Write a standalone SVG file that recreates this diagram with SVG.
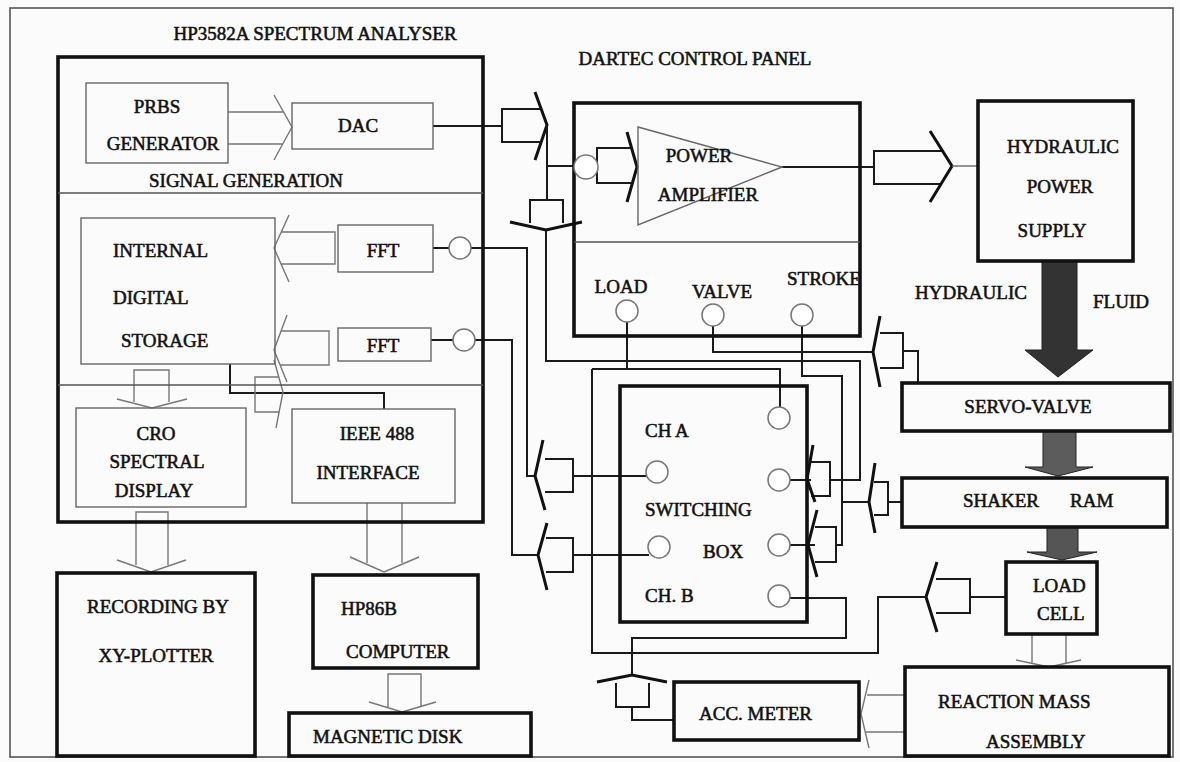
<svg xmlns="http://www.w3.org/2000/svg" width="1180" height="762" viewBox="0 0 1180 762">
<style>
.bg{fill:#fbfbfb}
.frame{fill:none;stroke:#555;stroke-width:1.6}
.thick{fill:none;stroke:#111;stroke-width:3.6}
.thin{fill:none;stroke:#666;stroke-width:1.4}
.div{fill:none;stroke:#555;stroke-width:1.3}
.wire{fill:none;stroke:#1a1a1a;stroke-width:2}
.darr{fill:none;stroke:#1a1a1a;stroke-width:2}
.chev{fill:none;stroke:#111;stroke-width:3;stroke-linejoin:miter}
.garr{fill:none;stroke:#777;stroke-width:1.4}
.port{fill:#fff;stroke:#777;stroke-width:1.5}
.fluid{stroke:#222;stroke-width:1}
text{font-family:"Liberation Serif","Times New Roman",serif;font-size:19px;fill:#111;stroke:#111;stroke-width:0.55}
.m{text-anchor:middle}
</style>
<rect class="bg" x="0" y="0" width="1180" height="762"/>

<g id="connectors">
  <path class="garr" d="M228,112 H284 M228,144 H283 M274,95 L292,127 L274,160"/>
  <path class="wire" d="M433,126 H502"/>
  <path class="darr" d="M541,109 H502 V142 H541"/>
  <path class="chev" d="M535,92 L547,125 L535,160"/>
  <path class="wire" d="M547,125 V200 M547,166 H575 M546,230 V361 H860 V480 H830"/>
  <path class="darr" d="M530,223 V200 H563 V223"/>
  <path class="chev" d="M510,222 L546,230 L582,222"/>
  <path class="darr" d="M631,148 H597 V183 H632"/>
  <path class="chev" d="M627,132 L637,167 L627,202"/>
  <path class="wire" d="M782,167 H874"/>
  <path class="darr" d="M942,151 H874 V184 H941"/>
  <path class="chev" d="M930,131 L952,166 L930,202"/>
  <path class="thin" d="M952,166 H978"/>
  <path class="garr" d="M281,232 H335 V264 H281 M289,215 L274,248 L289,282"/>
  <path class="garr" d="M281,331 H329 V365 H280 M287,315 L274,350 L287,382"/>
  <path class="garr" d="M134,402 V370 H169 V402 M117,399 L152,408 L187,399"/>
  <path class="wire" d="M230,364 V393 H384 V409"/>
  <path class="garr" d="M279,377 H255 V412 H279 M274,360 L283,392 L276,428"/>
  <path class="garr" d="M136,565 V512 H168 V565 M117,560 L151,572 L186,560"/>
  <path class="garr" d="M367,503 V563 M402,503 V563 M350,557 L384,572 L419,557"/>
  <path class="garr" d="M388,707 V674 H421 V707 M369,702 L402,712 L436,702"/>
  <path class="wire" d="M433,248 H449 M471,248 H527 V476 H535"/>
  <path class="wire" d="M431,340 H453 M475,340 H512 V555 H538"/>
  <path class="darr" d="M545,459 H573 V492 H545"/>
  <path class="chev" d="M543,440 L535,476 L545,510"/>
  <path class="wire" d="M573,476 H646"/>
  <path class="darr" d="M546,538 H573 V572 H546"/>
  <path class="chev" d="M547,523 L538,555 L547,590"/>
  <path class="wire" d="M573,555 H649"/>
  <path class="wire" d="M627,322 V369 M592,369 H780 V407"/>
  <path class="wire" d="M713,326 V352 H873"/>
  <path class="darr" d="M880,333 H903 V368 H880"/>
  <path class="chev" d="M880,316 L873,352 L880,387"/>
  <path class="wire" d="M903,351 H918 V383"/>
  <path class="wire" d="M802,326 V376 H842 V545 H836 M842,502 H869"/>
  <path class="darr" d="M874,482 H888 V515 H874"/>
  <path class="chev" d="M875,463 L869,502 L875,533"/>
  <path class="wire" d="M888,502 H902"/>
  <path class="wire" d="M790,480 H811 M790,545 H815"/>
  <path class="darr" d="M811,462 H830 V496 H811"/>
  <path class="chev" d="M813,445 L807,479 L815,502"/>
  <path class="darr" d="M815,527 H836 V562 H815"/>
  <path class="chev" d="M817,510 L808,545 L817,577"/>
  <path class="wire" d="M1006,597 H970"/>
  <path class="darr" d="M936,579 H970 V613 H936"/>
  <path class="chev" d="M937,562 L926,597 L937,632"/>
  <path class="wire" d="M926,597 H878 V653 H592 V369"/>
  <path class="wire" d="M790,598 H846 V638 H632 V675"/>
  <path class="chev" d="M597,682 L632,675 L667,682"/>
  <path class="darr" d="M616,683 V707 H649 V683"/>
  <path class="wire" d="M632,707 V720 H674"/>
  <path class="garr" d="M1032,634 V663 M1066,634 V663 M1016,660 L1049,667 L1081,660"/>
  <path class="garr" d="M905,695 H867 M905,732 H866 M869,680 L861,714 L869,748"/>
  <path class="fluid" fill="#333" d="M1042,261 V350 H1025 L1058,377 L1093,350 H1077 V261 Z"/>
  <path class="fluid" fill="#5c5c5c" d="M1043,431 V467 H1025 L1058,476 L1093,467 H1076 V431 Z"/>
  <path class="fluid" fill="#555" d="M1047,527 V552 H1027 L1062,560 L1097,552 H1078 V527 Z"/>
</g>

<rect class="frame" x="10" y="8" width="1163" height="749"/>
<text class="m" x="315" y="40">HP3582A SPECTRUM ANALYSER</text>
<text class="m" x="695" y="65">DARTEC CONTROL PANEL</text>

<g id="analyser">
  <rect class="thick" x="58" y="57" width="425" height="465"/>
  <path class="div" d="M58,193 H483 M58,385 H483"/>
  <text class="m" x="246" y="187">SIGNAL GENERATION</text>
</g>
<g id="prbs">
  <rect class="thin" x="86" y="83" width="142" height="80"/>
  <text class="m" x="157" y="113">PRBS</text>
  <text class="m" x="163" y="150">GENERATOR</text>
</g>
<g id="dac">
  <rect class="thin" x="292" y="103" width="141" height="46"/>
  <text class="m" x="358" y="132">DAC</text>
</g>
<g id="storage">
  <rect class="thin" x="81" y="218" width="194" height="146"/>
  <text x="113" y="257">INTERNAL</text>
  <text x="113" y="304">DIGITAL</text>
  <text x="121" y="347">STORAGE</text>
</g>
<g id="fft1">
  <rect class="thin" x="338" y="225" width="95" height="47"/>
  <text class="m" x="383" y="257">FFT</text>
  <circle class="port" cx="460" cy="248" r="11"/>
</g>
<g id="fft2">
  <rect class="thin" x="338" y="328" width="93" height="33"/>
  <text class="m" x="383" y="352">FFT</text>
  <circle class="port" cx="464" cy="340" r="11"/>
</g>
<g id="cro">
  <rect class="thin" x="76" y="408" width="170" height="99"/>
  <text class="m" x="156" y="440">CRO</text>
  <text class="m" x="157" y="468">SPECTRAL</text>
  <text class="m" x="154" y="497">DISPLAY</text>
</g>
<g id="ieee">
  <rect class="thin" x="292" y="409" width="163" height="94"/>
  <text class="m" x="377" y="440">IEEE 488</text>
  <text class="m" x="368" y="479">INTERFACE</text>
</g>
<g id="recording">
  <rect class="thick" x="57" y="573" width="198" height="183"/>
  <text class="m" x="158" y="613">RECORDING BY</text>
  <text class="m" x="156" y="662">XY-PLOTTER</text>
</g>
<g id="computer">
  <rect class="thick" x="313" y="575" width="165" height="93"/>
  <text x="341" y="615">HP86B</text>
  <text x="346" y="658">COMPUTER</text>
</g>
<g id="disk">
  <rect class="thick" x="289" y="713" width="242" height="43"/>
  <text x="313" y="743">MAGNETIC DISK</text>
</g>
<g id="dartec">
  <text x="787" y="285">STROKE</text>
  <rect class="thick" x="574" y="103" width="286" height="233"/>
  <path class="div" d="M574,242 H860"/>
  <circle class="port" cx="586" cy="167" r="12"/>
  <polygon class="thin" points="638,127 638,225 782,167"/>
  <text class="m" x="699" y="162">POWER</text>
  <text class="m" x="708" y="201">AMPLIFIER</text>
  <text class="m" x="621" y="293">LOAD</text>
  <text class="m" x="722" y="298">VALVE</text>
  <circle class="port" cx="627" cy="311" r="11"/>
  <circle class="port" cx="713" cy="315" r="11"/>
  <circle class="port" cx="802" cy="315" r="11"/>
</g>
<g id="hps">
  <rect class="thick" x="978" y="101" width="155" height="160"/>
  <text class="m" x="1063" y="153">HYDRAULIC</text>
  <text class="m" x="1060" y="193">POWER</text>
  <text class="m" x="1052" y="237">SUPPLY</text>
</g>
<text x="915" y="299">HYDRAULIC</text>
<text x="1093" y="308">FLUID</text>
<g id="servo">
  <rect class="thick" x="902" y="383" width="268" height="48"/>
  <text class="m" x="1028" y="413">SERVO-VALVE</text>
</g>
<g id="shaker">
  <rect class="thick" x="902" y="478" width="265" height="49"/>
  <text x="963" y="507">SHAKER</text>
  <text x="1070" y="507">RAM</text>
</g>
<g id="loadcell">
  <rect class="thick" x="1006" y="562" width="91" height="72"/>
  <text x="1033" y="592">LOAD</text>
  <text x="1037" y="620">CELL</text>
</g>
<g id="switching">
  <rect class="thick" x="620" y="386" width="187" height="236"/>
  <text x="645" y="437">CH A</text>
  <text x="645" y="516">SWITCHING</text>
  <text x="703" y="558">BOX</text>
  <text x="645" y="602">CH. B</text>
  <circle class="port" cx="779" cy="418" r="11"/>
  <circle class="port" cx="779" cy="480" r="11"/>
  <circle class="port" cx="779" cy="545" r="11"/>
  <circle class="port" cx="779" cy="596" r="11"/>
  <circle class="port" cx="657" cy="472" r="11"/>
  <circle class="port" cx="659" cy="547" r="11"/>
</g>
<g id="accmeter">
  <rect class="thick" x="674" y="682" width="185" height="58"/>
  <text x="699" y="720">ACC. METER</text>
</g>
<g id="reaction">
  <rect class="thick" x="905" y="667" width="264" height="89"/>
  <text x="938" y="708">REACTION MASS</text>
  <text x="986" y="748">ASSEMBLY</text>
</g>
</svg>
